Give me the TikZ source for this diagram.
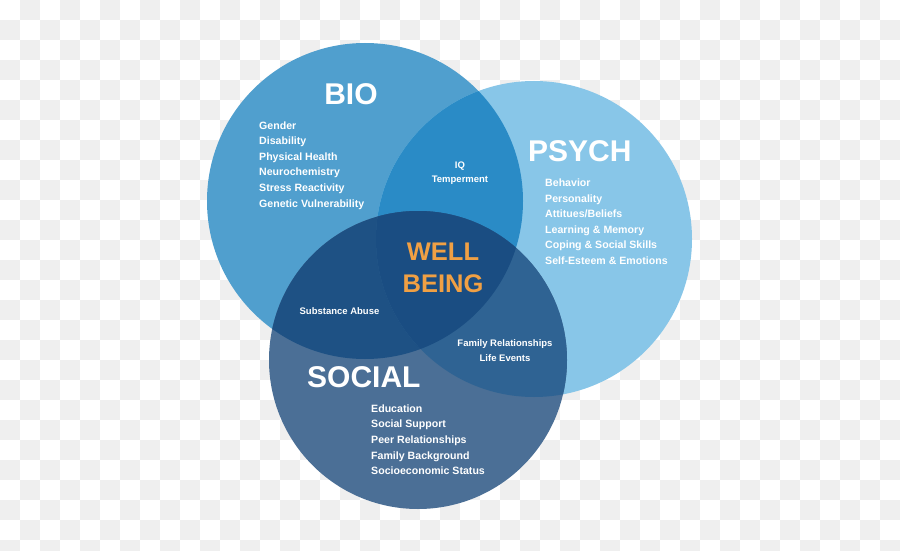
\documentclass[tikz,border=0pt]{standalone}
\usepackage{fontspec}
\setmainfont{Liberation Sans}
\definecolor{bioblue}{HTML}{509FCE}
\definecolor{psychblue}{HTML}{88C6E8}
\definecolor{socialblue}{HTML}{4B6F96}
\definecolor{biopsych}{HTML}{2A8BC6}
\definecolor{biosocial}{HTML}{1E5184}
\definecolor{psychsocial}{HTML}{2F6393}
\definecolor{coreblue}{HTML}{1A4D82}
\definecolor{wellorange}{HTML}{F0A044}
\definecolor{checkgray}{HTML}{EFEFEF}
\tikzset{
  title/.style={text=white,inner sep=0pt,font=\bfseries\fontsize{30}{36}\selectfont},
  items/.style={text=white,inner sep=0pt,align=left,font=\bfseries\fontsize{10.6}{15.6}\selectfont},
  overlap/.style={text=white,inner sep=0pt,align=center,font=\bfseries\fontsize{9.5}{14.4}\selectfont},
}
\begin{document}
\begin{tikzpicture}[x=1pt,y=-1pt,line join=round,line cap=round]
	\useasboundingbox (0,0) rectangle (900,551);
	\def\biocircle{(365,201) circle (158pt)}
	\def\psychcircle{(534,239) circle (158pt)}
	\def\socialcircle{(418,360) circle (149pt)}
	% background checks
	\fill[white] (0,0) rectangle (900,551);
	\foreach \i in {1,3,...,43}
		\foreach \j in {0,2,...,26}
			\fill[checkgray] (20*\i,20*\j) rectangle ++(20,20);
	\foreach \i in {0,2,...,44}
		\foreach \j in {1,3,...,27}
			\fill[checkgray] (20*\i,20*\j) rectangle ++(20,20);
	% circles
	\fill[bioblue] \biocircle;
	\fill[psychblue] \psychcircle;
	\fill[socialblue] \socialcircle;
	\begin{scope}
		\clip \biocircle;
		\fill[biopsych] \psychcircle;
		\fill[biosocial] \socialcircle;
	\end{scope}
	\begin{scope}
		\clip \psychcircle;
		\fill[psychsocial] \socialcircle;
		\clip \biocircle;
		\fill[coreblue] \socialcircle;
	\end{scope}
	% labels
	\node[title] (bio) at (351,94) {BIO};
	\node[title,anchor=west] (psych) at (528,151.5) {PSYCH};
	\node[title,anchor=west] (social) at (307,377.5) {SOCIAL};
	\node[items,anchor=west] (biolist) at (259,165.3)
		{Gender\\Disability\\Physical Health\\Neurochemistry\\Stress Reactivity\\Genetic Vulnerability};
	\node[items,anchor=west] (psychlist) at (545,221.7)
		{Behavior\\Personality\\Attitues/Beliefs\\Learning \& Memory\\Coping \& Social Skills\\Self-Esteem \& Emotions};
	\node[items,anchor=west] (sociallist) at (371,439.8)
		{Education\\Social Support\\Peer Relationships\\Family Background\\Socioeconomic Status};
	\node[overlap] (biopsychtext) at (460,173) {IQ\\Temperment};
	\node[overlap] (biosocialtext) at (339.5,310.7) {Substance Abuse};
	\node[overlap] (psychsocialtext) at (505,350.5) {Family Relationships\\Life Events};
	\node[text=wellorange,inner sep=0pt,align=center,font=\bfseries\fontsize{25.5}{31.5}\selectfont]
		(wellbeing) at (443,268) {WELL\\BEING};
\end{tikzpicture}
\end{document}
